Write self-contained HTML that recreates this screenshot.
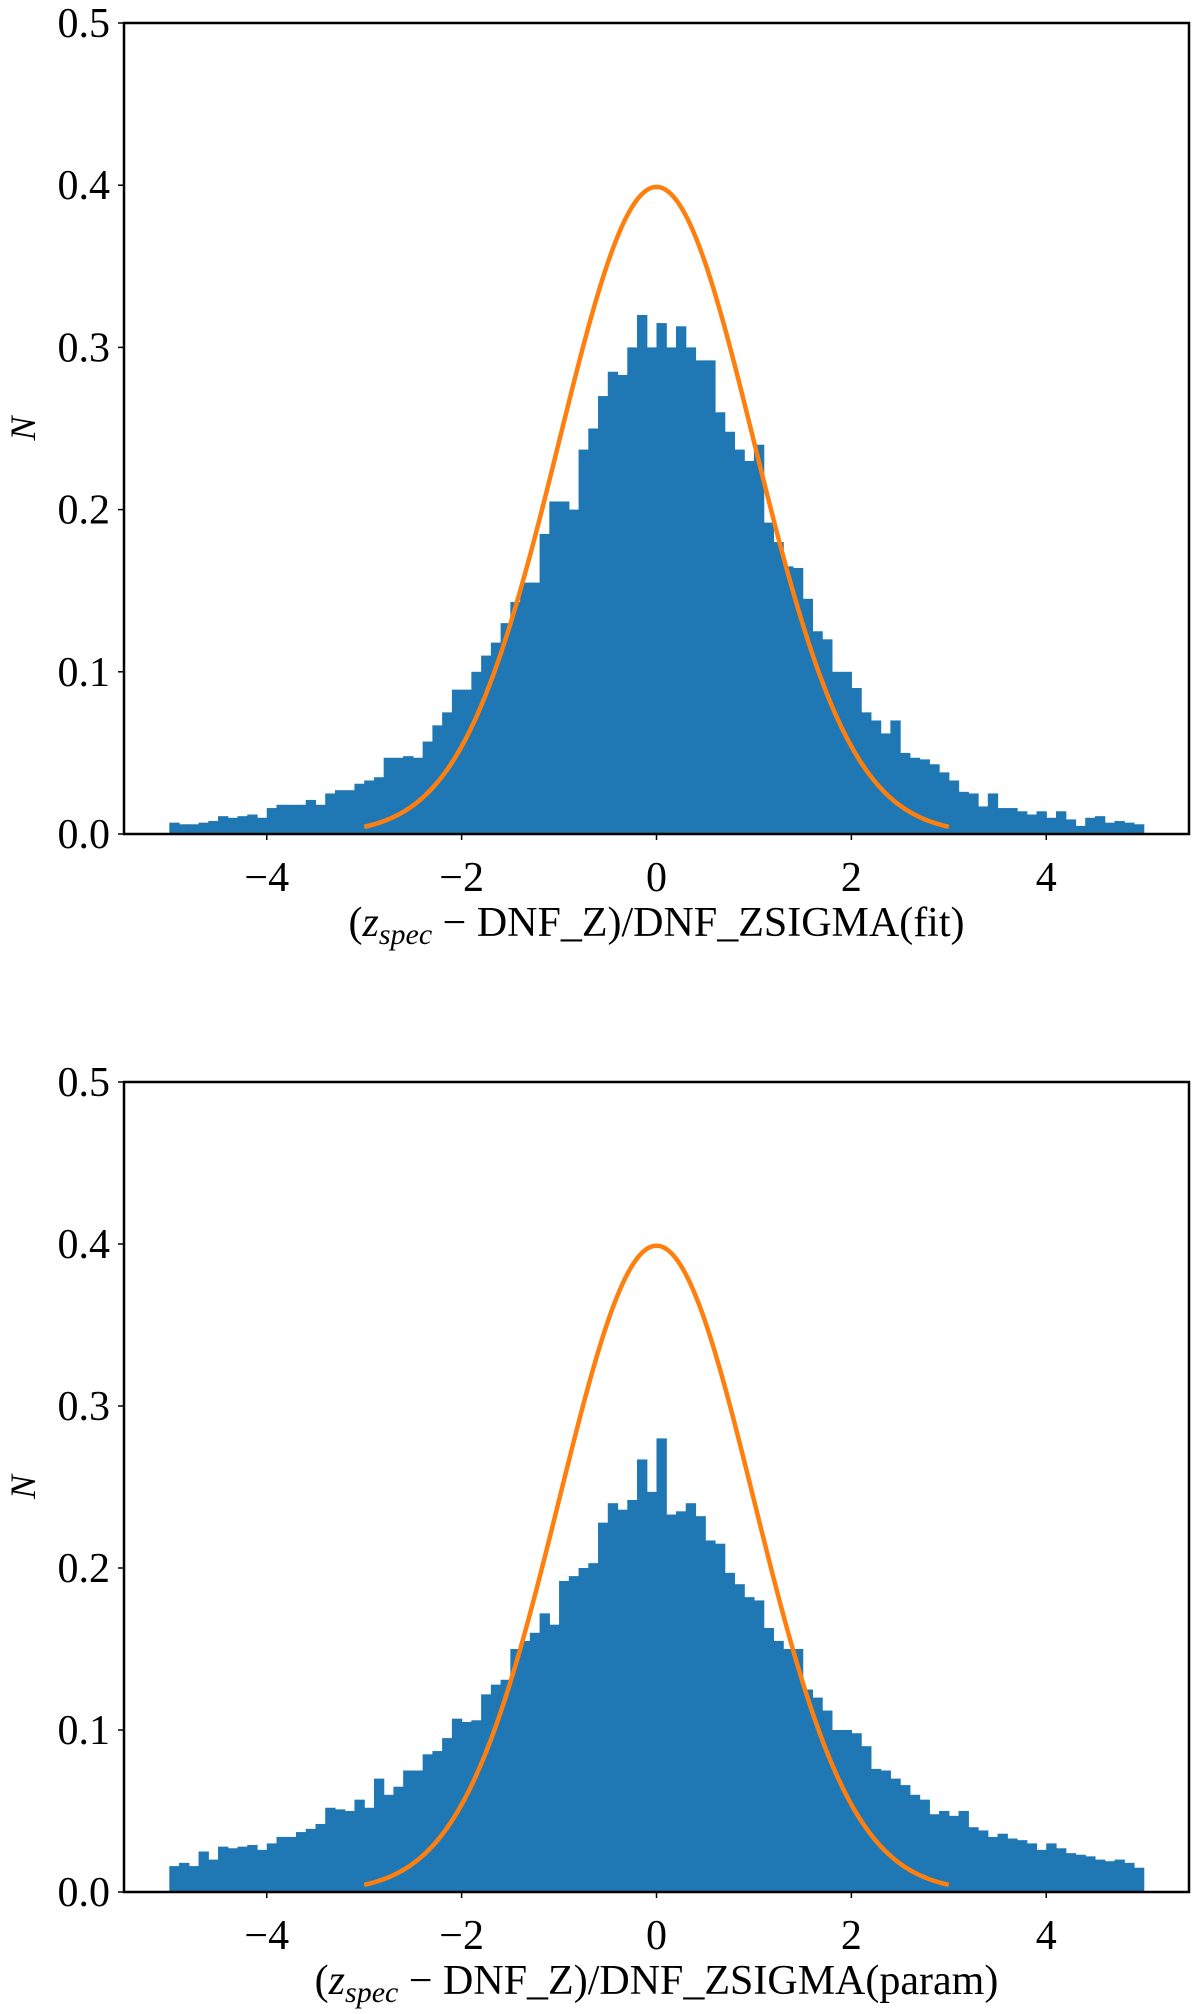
<!DOCTYPE html>
<html><head><meta charset="utf-8"><style>
html,body{margin:0;padding:0;background:#fff;}
svg{display:block;font-family:"Liberation Serif",serif;}
</style></head><body>
<svg id="fig" width="1200" height="2014" viewBox="0 0 1200 2014" xmlns="http://www.w3.org/2000/svg"></svg>
<script>
const binStart = -5, binWidth = 0.1;
const fitValues = [
0.007,0.006,0.006,0.007,0.008, 0.011,0.010,0.011,0.012,0.010,
0.016,0.018,0.018,0.018,0.021, 0.018,0.025,0.027,0.027,0.031,
0.033,0.035,0.047,0.047,0.048, 0.047,0.057,0.067,0.075,0.089,
0.089,0.100,0.110,0.118,0.130, 0.143,0.155,0.155,0.185,0.205,
0.205,0.200,0.237,0.250,0.270, 0.285,0.283,0.300,0.320,0.300,
0.315,0.300,0.313,0.300,0.292, 0.292,0.260,0.248,0.237,0.230,
0.240,0.192,0.180,0.165,0.164, 0.145,0.125,0.120,0.100,0.100,
0.090,0.075,0.070,0.062,0.070, 0.050,0.047,0.046,0.043,0.038,
0.033,0.026,0.025,0.017,0.025, 0.016,0.016,0.014,0.012,0.014,
0.010,0.014,0.009,0.005,0.010, 0.011,0.007,0.008,0.007,0.006];
const paramValues = [
0.016,0.018,0.016,0.025,0.020, 0.028,0.027,0.028,0.029,0.026,
0.030,0.034,0.034,0.037,0.039, 0.042,0.052,0.051,0.050,0.057,
0.052,0.070,0.060,0.065,0.075, 0.075,0.085,0.087,0.095,0.107,
0.105,0.106,0.122,0.128,0.131, 0.150,0.155,0.160,0.172,0.165,
0.192,0.195,0.200,0.203,0.228, 0.240,0.236,0.242,0.267,0.247,
0.280,0.233,0.235,0.240,0.232, 0.217,0.215,0.197,0.190,0.182,
0.180,0.163,0.155,0.150,0.150, 0.125,0.120,0.112,0.100,0.100,
0.098,0.090,0.076,0.075,0.070, 0.066,0.060,0.057,0.048,0.050,
0.047,0.050,0.040,0.038,0.034, 0.036,0.033,0.032,0.030,0.026,
0.030,0.027,0.024,0.023,0.022, 0.020,0.019,0.020,0.018,0.015];
const xTicks = [-4,-2,0,2,4];
const yTicks = [0.0,0.1,0.2,0.3,0.4,0.5];
const xTickLabels = ["\u22124","\u22122","0","2","4"];
const yTickLabels = ["0.0","0.1","0.2","0.3","0.4","0.5"];

const NS="http://www.w3.org/2000/svg";
const fig=document.getElementById('fig');
function mk(tag,attrs,parent){const e=document.createElementNS(NS,tag);for(const k in attrs)e.setAttribute(k,attrs[k]);(parent||fig).appendChild(e);return e;}

function panel(top,bottom,values,suffix,name){
  const left=124,right=1189;
  const xmin=-5.465,xmax=5.465;
  const X=v=>left+(v-xmin)/(xmax-xmin)*(right-left);
  const Y=v=>bottom-(v/0.5)*(bottom-top);
  const g=mk('g',{});
  
  
  values.forEach((v,i)=>{
    const x0=X(binStart+i*binWidth),x1=X(binStart+(i+1)*binWidth);
    const r=mk('rect',{x:x0,y:Y(v),width:x1-x0+0.6,height:bottom-Y(v),fill:'#1f77b4'},g);
    
    
  });
  let d='';
  for(let i=0;i<=300;i++){const x=-3+6*i/300;const y=Math.exp(-x*x/2)/Math.sqrt(2*Math.PI);d+=(i?'L':'M')+X(x).toFixed(2)+','+Y(y).toFixed(2);}
  const c=mk('path',{d:d,fill:'none',stroke:'#ff7f0e','stroke-width':4.5},g);
  
  
  const f=mk('rect',{x:left,y:top,width:right-left,height:bottom-top,fill:'none',stroke:'#000','stroke-width':2.5},g);
  
  
  xTicks.forEach((t,i)=>{
    mk('line',{x1:X(t),x2:X(t),y1:bottom,y2:bottom+6,stroke:'#000','stroke-width':1.5},g);
    const tx=mk('text',{x:X(t),y:bottom+57,'font-size':42,'text-anchor':'middle'},g);
    tx.textContent=xTickLabels[i];
    
    
  });
  yTicks.forEach((t,i)=>{
    mk('line',{x1:left-6,x2:left,y1:Y(t),y2:Y(t),stroke:'#000','stroke-width':1.5},g);
    const ty=mk('text',{x:left-14,y:Y(t)+14,'font-size':42,'text-anchor':'end'},g);
    ty.textContent=yTickLabels[i];
    
    
  });
  const yl=mk('text',{x:0,y:0,'font-size':36,'font-style':'italic','text-anchor':'middle',transform:`translate(35,${(top+bottom)/2}) rotate(-90)`},g);
  yl.textContent='N';
  
  
  const xl=mk('text',{x:(left+right)/2,y:bottom+102,'font-size':42,'text-anchor':'middle'},g);
  
  
  xl.innerHTML='(<tspan font-style="italic">z</tspan><tspan font-style="italic" font-size="30" dy="8">spec</tspan><tspan dy="-8"> \u2212 DNF_Z)/DNF_ZSIGMA('+suffix+')</tspan>';
}
panel(23,834,fitValues,'fit','histogram-fit-panel');
panel(1082,1892,paramValues,'param','histogram-param-panel');
</script>
</body></html>
